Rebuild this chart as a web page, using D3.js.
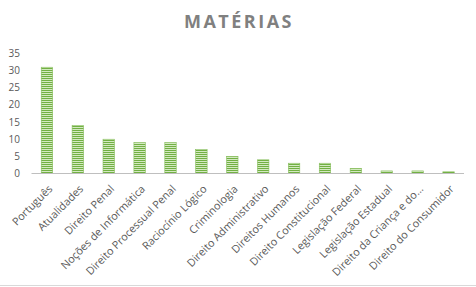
<!DOCTYPE html>
<html><head><meta charset="utf-8">
<script src="https://cdn.jsdelivr.net/npm/d3@7"></script>
<style>html,body{margin:0;padding:0;background:#fff;}svg{display:block;}</style>
</head><body>
<script>
const categories = ["Português","Atualidades","Direito Penal","Noções de Informática","Direito Processual Penal","Raciocínio Lógico","Criminologia","Direito Administrativo","Direitos Humanos","Direito Constitucional","Legislação Federal","Legislação Estadual","Direito da Criança e do…","Direito do Consumidor"];
const values = [31,14,10,9,9,7,5,4,3,3,1.5,0.75,0.75,0.5];
const yTicks = [0,5,10,15,20,25,30,35];
const title = "MATÉRIAS";

const W = 476, H = 287;
const svg = d3.select("body").append("svg").attr("width", W).attr("height", H);

const defs = svg.append("defs");
const pat = defs.append("pattern").attr("id","stripe").attr("patternUnits","userSpaceOnUse")
  .attr("width",4).attr("height",2);
pat.append("rect").attr("width",4).attr("height",2).attr("fill","#d3e9c1");
pat.append("rect").attr("width",4).attr("height",1).attr("fill","#72b043");

const x = d3.scaleBand().domain(categories).range([31.5, 464]).paddingInner(0.63).paddingOuter(0.315);
const y = d3.scaleLinear().domain([0,35]).range([173.5, 53.5]);

svg.append("text").attr("x", 239).attr("y", 28).attr("text-anchor","middle")
  .attr("font-family","'Open Sans', sans-serif").attr("font-weight","bold").attr("font-size",18)
  .attr("letter-spacing","2.5px").attr("fill","#808080").text(title);

// y labels
svg.append("g").selectAll("text").data(yTicks).join("text")
  .attr("x", 20).attr("y", d => y(d)).attr("dy","0.35em").attr("text-anchor","end")
  .attr("font-family","'Open Sans', sans-serif").attr("font-size",10).attr("fill","#595959")
  .text(d => d);

// bars
svg.append("g").selectAll("rect").data(values).join("rect")
  .attr("x", (d,i) => x(categories[i])).attr("width", x.bandwidth())
  .attr("y", d => y(d)).attr("height", d => y(0) - y(d))
  .attr("fill","url(#stripe)").attr("stroke","#86bd5c").attr("stroke-width",0.6);

// axis line
svg.append("line").attr("x1",31.5).attr("x2",464).attr("y1",y(0)).attr("y2",y(0))
  .attr("stroke","#bfbfbf").attr("stroke-width",1.2);

// x labels
svg.append("g").selectAll("text").data(categories).join("text")
  .attr("transform", d => `translate(${x(d)+x.bandwidth()/2+3.5},${y(0)+13.5}) rotate(-45)`)
  .attr("text-anchor","end").attr("dy","0.35em")
  .attr("font-family","'Open Sans', sans-serif").attr("font-size",10.8).attr("fill","#595959")
  .text(d => d);

// bottom border
svg.append("line").attr("x1",0).attr("x2",W).attr("y1",285.5).attr("y2",285.5)
  .attr("stroke","#d9d9d9").attr("stroke-width",1);
</script>
</body></html>
